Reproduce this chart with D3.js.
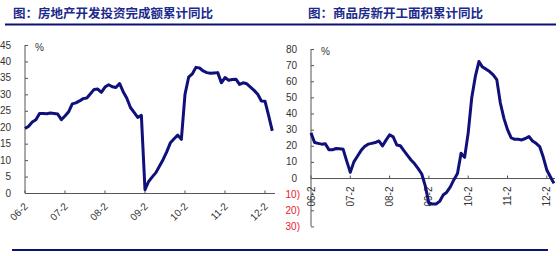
<!DOCTYPE html>
<html>
<head>
<meta charset="utf-8">
<script src="https://cdn.jsdelivr.net/npm/d3@7"></script>
<style>
  html, body { margin: 0; padding: 0; background: #fff; }
  svg { display: block; font-family: "Liberation Sans", Arial, sans-serif; }
</style>
</head>
<body>
<script>
// categories: Jan is not published (Jan-Feb is one figure), so 11 points a year
const years = ['06', '07', '08', '09', '10', '11', '12'];
const monthNums = [2, 3, 4, 5, 6, 7, 8, 9, 10, 11, 12];
const tickLabels = ['06-2', '07-2', '08-2', '09-2', '10-2', '11-2', '12-2'];

// 房地产开发投资完成额累计同比 (%)
const investGrowth = [
  19.6, 20.3, 21.6, 22.3, 24.2, 24.2, 24.1, 24.3, 24.2, 24.0, 22.3,
  23.4, 24.7, 27.1, 27.4, 28.0, 28.7, 28.9, 30.2, 31.5, 31.6, 30.6,
  32.2, 32.9, 32.3, 32.1, 33.3, 30.8, 28.8, 26.0, 24.5, 23.0, 23.6,
  1.0, 3.5, 4.9, 6.2, 8.2, 10.2, 12.6, 15.3, 16.5, 17.6, 16.3,
  30.0, 35.2, 36.2, 38.2, 38.0, 37.1, 36.6, 36.4, 36.5, 36.6, 33.5,
  35.1, 34.3, 34.5, 34.6, 33.0, 33.5, 33.2, 32.2, 31.2, 30.0, 28.0,
  27.9, 23.5, 18.9
];

// 商品房新开工面积累计同比 (%)
const startsGrowth = [
  28.0, 22.0, 21.5, 21.0, 21.3, 17.6, 17.5, 18.3, 18.2, 17.8, 10.5,
  3.5, 10.0, 13.5, 17.0, 19.5, 21.0, 21.5, 22.0, 23.0, 19.9, 23.5,
  26.8, 25.5, 20.5, 20.0, 17.0, 14.0, 11.2, 8.8, 5.8, 2.5, -5.0,
  -15.7, -16.1, -16.1, -14.5, -10.5, -8.8, -5.5, -1.0, 2.8, 15.3, 12.8,
  28.0, 50.0, 63.0, 72.2, 68.8, 67.5, 66.0, 64.0, 61.0, 46.5, 37.0,
  30.0, 25.0, 24.0, 24.0, 23.6, 24.5, 25.7, 23.0, 21.5, 19.5, 13.0,
  5.0, 0.8, -3.3
];

const investTicks = [0, 5, 10, 15, 20, 25, 30, 35, 40, 45];
const startsTicks = [-30, -20, -10, 0, 10, 20, 30, 40, 50, 60, 70, 80];

const categories = years
  .flatMap((y) => monthNums.map((m) => `${y}-${m}`))
  .slice(0, investGrowth.length);

const navy = '#10107a';
const titleBlue = '#1b2a8c';
const axisGray = '#555';
const textGray = '#333';

const svg = d3.select('body')
  .append('svg')
  .attr('width', 560)
  .attr('height', 256);

function drawPanel(opts) {
  const g = svg.append('g');

  // title + rule under it
  g.append('text')
    .attr('x', opts.titleX)
    .attr('y', 18)
    .attr('font-family', '"Noto Sans CJK SC", sans-serif')
    .attr('font-weight', 'bold')
    .attr('font-size', 12.5)
    .attr('fill', titleBlue)
    .text(opts.title);

  g.append('line')
    .attr('x1', opts.ruleX[0]).attr('x2', opts.ruleX[1])
    .attr('y1', 24.5).attr('y2', 24.5)
    .attr('stroke', '#0c1270')
    .attr('stroke-width', 2);

  const step = opts.yearWidth / monthNums.length;
  const x = d3.scalePoint()
    .domain(categories)
    .range([opts.x0, opts.x0 + step * (categories.length - 1)]);

  const y = d3.scaleLinear()
    .domain(opts.yDomain)
    .range(opts.yRange);

  // y axis: line with short ticks pointing into the plot
  g.append('line')
    .attr('x1', opts.x0).attr('x2', opts.x0)
    .attr('y1', y(opts.yDomain[0])).attr('y2', y(opts.yDomain[1]))
    .attr('stroke', axisGray);

  g.selectAll('.ytick')
    .data(opts.yTicks)
    .join('line')
    .attr('x1', opts.x0).attr('x2', opts.x0 + 3)
    .attr('y1', (d) => y(d) + 0.5).attr('y2', (d) => y(d) + 0.5)
    .attr('stroke', axisGray);

  g.selectAll('.ylabel')
    .data(opts.yTicks)
    .join('text')
    .attr('x', (d) => (d < 0 ? opts.x0 - 11 : opts.x0 - 14))
    .attr('y', (d) => y(d))
    .attr('dy', '0.35em')
    .attr('text-anchor', 'end')
    .attr('font-size', 10)
    .attr('fill', (d) => (d < 0 ? '#e8202a' : textGray))
    .text((d) => (d < 0 ? `${-d})` : d));

  g.append('text')
    .attr('x', opts.x0 + 10)
    .attr('y', opts.pctY)
    .attr('font-size', 10)
    .attr('fill', textGray)
    .text('%');

  // x axis at zero
  const y0 = y(0) + 0.5;
  g.append('line')
    .attr('x1', opts.x0).attr('x2', opts.xEnd)
    .attr('y1', y0).attr('y2', y0)
    .attr('stroke', axisGray);

  g.selectAll('.xtick')
    .data(tickLabels)
    .join('line')
    .attr('x1', (d) => x(d))
    .attr('x2', (d) => x(d))
    .attr('y1', y0).attr('y2', y0 - 3)
    .attr('stroke', axisGray);

  g.selectAll('.xlabel')
    .data(tickLabels)
    .join('text')
    .attr('transform', (d) => opts.labelTransform(x(d), y0))
    .attr('text-anchor', 'end')
    .attr('dy', '0.35em')
    .attr('font-size', 10)
    .attr('fill', textGray)
    .text((d) => d);

  const line = d3.line()
    .x((d, i) => x(categories[i]))
    .y((d) => y(d));

  g.append('path')
    .datum(opts.values)
    .attr('fill', 'none')
    .attr('stroke', navy)
    .attr('stroke-width', 3)
    .attr('stroke-linejoin', 'round')
    .attr('d', line);

  // bottom rule
  g.append('line')
    .attr('x1', opts.bottomX[0]).attr('x2', opts.bottomX[1])
    .attr('y1', 250).attr('y2', 250)
    .attr('stroke', '#0c1270')
    .attr('stroke-width', 2);
}

drawPanel({
  title: '图：房地产开发投资完成额累计同比',
  titleX: 13,
  ruleX: [5, 280],
  bottomX: [12, 280],
  values: investGrowth,
  x0: 25,
  xEnd: 275,
  yearWidth: 40,
  yDomain: [0, 45],
  yRange: [193, 45],
  yTicks: investTicks,
  pctY: 51,
  labelTransform: (px, py) => `translate(${px + 1},${py + 11}) rotate(-45)`
});

drawPanel({
  title: '图：商品房新开工面积累计同比',
  titleX: 308,
  ruleX: [280, 556],
  bottomX: [280, 548],
  values: startsGrowth,
  x0: 311,
  xEnd: 555,
  yearWidth: 39.3,
  yDomain: [-30, 80],
  yRange: [226.4, 49],
  yTicks: startsTicks,
  pctY: 55,
  labelTransform: (px, py) => `translate(${px},${py + 8}) rotate(-90)`
});
</script>
</body>
</html>
